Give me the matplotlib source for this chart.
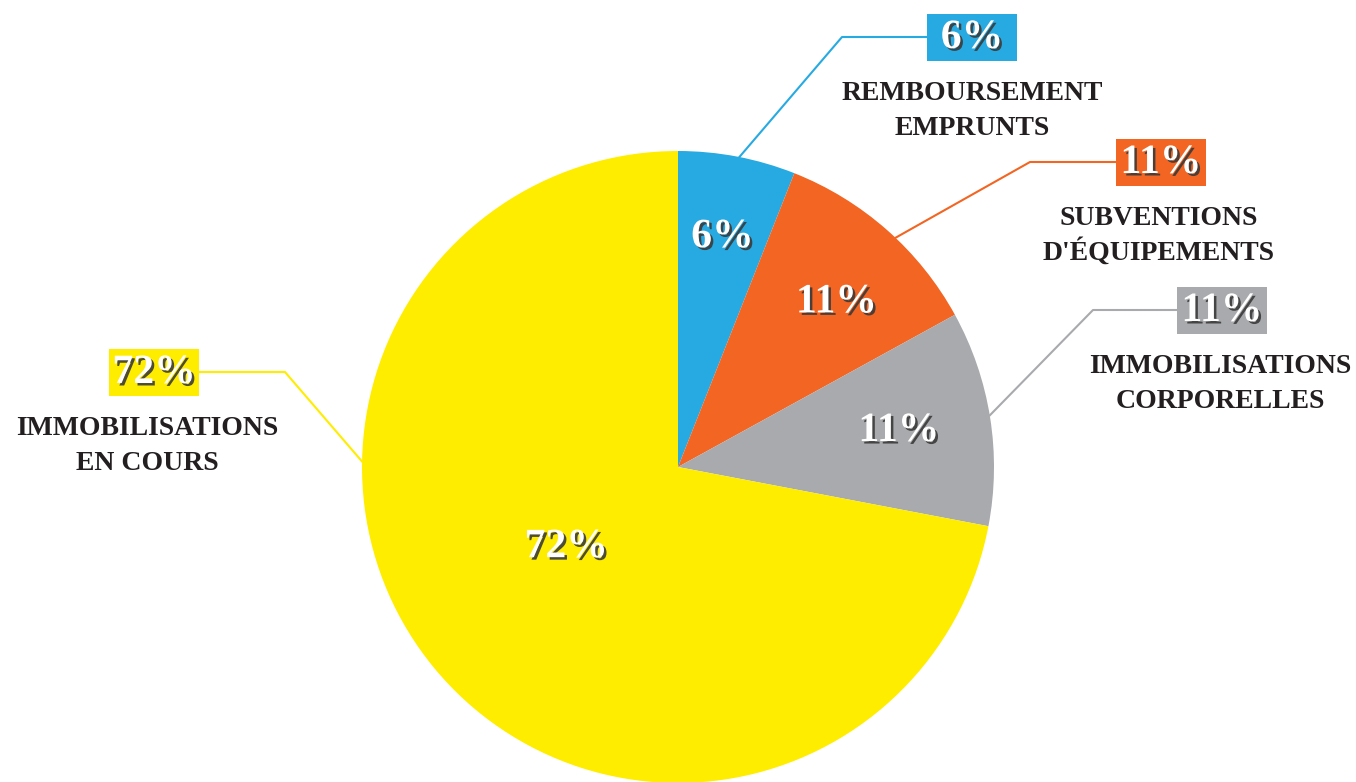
import numpy as np
import matplotlib
matplotlib.use('Agg')
import matplotlib.pyplot as plt
import matplotlib.patheffects as pe

# data
labels = ['REMBOURSEMENT\nEMPRUNTS', "SUBVENTIONS\nD'ÉQUIPEMENTS",
          'IMMOBILISATIONS\nCORPORELLES', 'IMMOBILISATIONS\nEN COURS']
values = [6, 11, 11, 72]
colors = ['#27AAE1', '#F26522', '#A9AAAD', '#FFED00']

W, H = 1356, 782
fig = plt.figure(figsize=(W / 100, H / 100), dpi=100)
ax = fig.add_axes([0, 0, 1, 1])

cx, cy, R = 678, H - 467, 316
wedges, _ = ax.pie(values, colors=colors, startangle=90, counterclock=False,
                   center=(cx, cy), radius=R, frame=True,
                   wedgeprops=dict(linewidth=0))
ax.set_xlim(0, W)
ax.set_ylim(0, H)
ax.set_aspect('equal')
ax.axis('off')

font = 'Liberation Serif'
shadow = [pe.withSimplePatchShadow(offset=(1.8, -1.8), shadow_rgbFace='#3a3a3a', alpha=0.9)]

# inside labels: fraction of radius and angle offset
inner_r = [0.75, 0.73, 0.71, 0.43]
inner_da = [0, -2, 1, -5]
for w, v, fr, da in zip(wedges, values, inner_r, inner_da):
    ang = np.deg2rad((w.theta1 + w.theta2) / 2 + da)
    ax.text(cx + fr * R * np.cos(ang), cy + fr * R * np.sin(ang) - 3, f'{v}%',
            ha='center', va='center', fontsize=30, fontweight='bold',
            color='white', family=font, path_effects=shadow)

# outside callouts: box centre, leader elbow, start angle on the rim, label centre x
box_xy = [(972, H - 37), (1161, H - 162), (1222, H - 310), (154, H - 372)]
elbow = [(842, H - 37), (1030, H - 162), (1093, H - 310), (285, H - 372)]
rim_ang = [78.8, 46.5, 9.4, 179.0]
label_x = [972, 1159, 1220, 147]
box_w, box_h = 90, 47
for lab, v, c, (bx, by), (ex, ey), a, lx in zip(labels, values, colors, box_xy,
                                                  elbow, rim_ang, label_x):
    t = np.deg2rad(a)
    sx, sy = cx + R * np.cos(t), cy + R * np.sin(t)
    edge_x = bx - box_w / 2 if bx > cx else bx + box_w / 2
    ax.plot([sx, ex, edge_x], [sy, ey, ey], color=c, lw=1.5, zorder=1)
    ax.add_patch(plt.Rectangle((bx - box_w / 2, by - box_h / 2), box_w, box_h,
                               facecolor=c, edgecolor='none', zorder=2))
    ax.text(bx, by - 1, f'{v}%', ha='center', va='center', fontsize=30,
            fontweight='bold', color='white', family=font, path_effects=shadow, zorder=3)
    for i, line in enumerate(lab.split('\n')):
        ax.text(lx, by - 63 - 35 * i, line, ha='center', va='baseline', fontsize=20,
                fontweight='bold', color='#231F20', family=font, zorder=3)

fig.savefig('out.png', dpi=100)
